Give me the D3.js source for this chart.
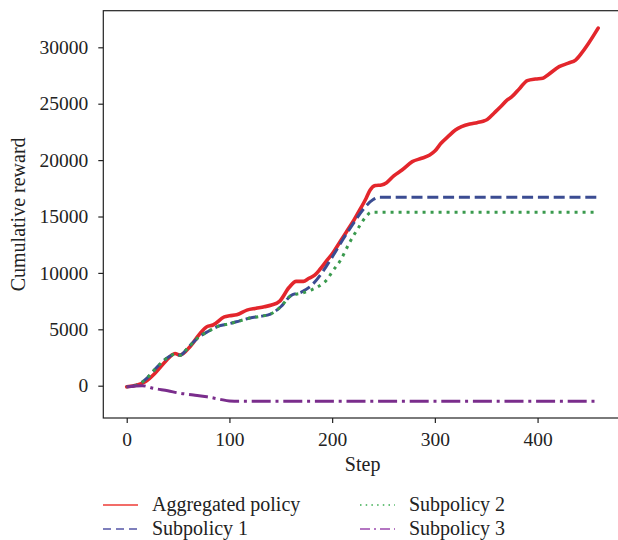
<!DOCTYPE html>
<html>
<head>
<meta charset="utf-8">
<script src="https://cdn.jsdelivr.net/npm/d3@7"></script>
<style>
  html, body { margin: 0; padding: 0; background: #fff; }
  svg text { font-family: "Liberation Serif", "DejaVu Serif", serif; fill: #222; }
</style>
</head>
<body>
<svg id="chart" width="618" height="540"></svg>
<script>
// ---- data ----
const aggSteps = [0, 10, 18, 28, 39, 44, 47, 52, 62, 72, 78, 84, 95, 100, 107, 117, 126, 134, 141, 149, 158, 165, 172, 177, 183, 188, 194, 201, 208, 214, 221, 227, 233, 237, 242, 248, 253, 260, 268, 278, 287, 295, 300, 306, 313, 320, 326, 334, 341, 347, 351, 358, 364, 370, 375, 383, 390, 398, 405, 410, 421, 430, 437, 443, 450, 459];
const aggValues = [-100, 60, 350, 1150, 2280, 2720, 2850, 2720, 3500, 4700, 5230, 5380, 6100, 6200, 6280, 6700, 6860, 7000, 7150, 7500, 8700, 9250, 9250, 9500, 9800, 10300, 11000, 11800, 12800, 13650, 14650, 15600, 16600, 17350, 17750, 17800, 18000, 18600, 19120, 19860, 20160, 20450, 20800, 21490, 22100, 22670, 22960, 23200, 23320, 23450, 23600, 24200, 24730, 25300, 25620, 26400, 27050, 27190, 27250, 27550, 28280, 28600, 28870, 29500, 30400, 31700];

const sub1Steps = [0, 10, 20, 30, 40, 47, 52, 60, 70, 80, 90, 100, 110, 120, 130, 140, 150, 160, 170, 180, 190, 200, 210, 220, 230, 240, 246, 300, 400, 459];
const sub1Values = [-100, 50, 700, 1700, 2500, 2800, 2700, 3400, 4300, 4850, 5300, 5500, 5750, 6000, 6150, 6350, 7000, 8000, 8300, 8900, 10000, 11400, 12900, 14300, 15600, 16500, 16700, 16700, 16700, 16700];

const sub2Steps = [0, 10, 20, 30, 40, 47, 52, 60, 70, 80, 90, 100, 110, 120, 130, 140, 150, 160, 170, 180, 190, 195, 200, 208, 217, 227, 233, 238, 300, 400, 459];
const sub2Values = [-100, 50, 700, 1700, 2500, 2800, 2700, 3400, 4300, 4850, 5300, 5500, 5750, 6000, 6150, 6350, 7000, 8000, 8200, 8500, 9000, 9400, 10100, 11100, 12700, 14200, 15000, 15370, 15370, 15370, 15370];

const sub3Steps = [0, 15, 26, 40, 52, 65, 78, 91, 100, 110, 200, 300, 400, 459];
const sub3Values = [-100, 0, -230, -450, -670, -820, -980, -1210, -1350, -1380, -1380, -1380, -1380, -1380];

const seriesNames = ["Aggregated policy", "Subpolicy 1", "Subpolicy 2", "Subpolicy 3"];
const xTicks = [0, 100, 200, 300, 400];
const yTicks = [0, 5000, 10000, 15000, 20000, 25000, 30000];

// ---- styles ----
const styles = [
  { color: "#e3262c", width: 3.6, dash: null,             legDash: null,            legColor: "#ee3b36" },
  { color: "#3b4c92", width: 3.0, dash: "11,4.8",         legDash: "8,5",           legColor: "#5456a6" },
  { color: "#3a9a4e", width: 3.0, dash: "3,5",            legDash: "1.5,4.2",       legColor: "#3aad50" },
  { color: "#7a2d8c", width: 3.0, dash: "19,4.8,3,4.8",   legDash: "10,4,2,4",      legColor: "#9c4aae" }
];

const series = [
  aggSteps.map((s, i) => [s, aggValues[i]]),
  sub1Steps.map((s, i) => [s, sub1Values[i]]),
  sub2Steps.map((s, i) => [s, sub2Values[i]]),
  sub3Steps.map((s, i) => [s, sub3Values[i]])
];

// ---- layout ----
const mLeft = 103.3, mRight = 622, mTop = 10.7, mBottom = 418;
const svg = d3.select("#chart");

const x = d3.scaleLinear().domain([-22.8, 482.2]).range([mLeft, mRight]);
const y = d3.scaleLinear().domain([-2863, 33245]).range([mBottom, mTop]);

const line = d3.line().x(d => x(d[0])).y(d => y(d[1])).curve(d3.curveMonotoneX);

[0, 1, 2, 3].forEach(k => {
  const st = styles[k];
  svg.append("path")
    .datum(series[k])
    .attr("fill", "none")
    .attr("stroke", st.color)
    .attr("stroke-width", st.width)
    .attr("stroke-linejoin", "round")
    .attr("stroke-linecap", k === 0 ? "round" : "butt")
    .attr("stroke-dasharray", st.dash)
    .attr("d", line);
});

// frame
svg.append("rect")
  .attr("x", mLeft).attr("y", mTop)
  .attr("width", mRight - mLeft).attr("height", mBottom - mTop)
  .attr("fill", "none").attr("stroke", "#222").attr("stroke-width", 1.2);

// axes
const yAxis = d3.axisLeft(y).tickValues(yTicks).tickSize(5).tickPadding(10).tickFormat(d3.format("d"));
const xAxis = d3.axisBottom(x).tickValues(xTicks).tickSize(5).tickPadding(9).tickFormat(d3.format("d"));

const gy = svg.append("g").attr("transform", `translate(${mLeft},0)`).call(yAxis);
const gx = svg.append("g").attr("transform", `translate(0,${mBottom})`).call(xAxis);
[gx, gy].forEach(g => {
  g.select(".domain").remove();
  g.selectAll(".tick line").attr("stroke", "#222").attr("stroke-width", 1.2);
  g.selectAll(".tick text").attr("font-size", 19.5).attr("fill", "#222")
    .style("font-family", '"Liberation Serif", "DejaVu Serif", serif');
});

// axis labels
svg.append("text")
  .attr("x", (mLeft + mRight) / 2).attr("y", 471)
  .attr("text-anchor", "middle").attr("font-size", 20)
  .text("Step");

svg.append("text")
  .attr("transform", `translate(25,${(mTop + mBottom) / 2}) rotate(-90)`)
  .attr("text-anchor", "middle").attr("font-size", 20)
  .text("Cumulative reward");

// legend (2 columns)
const legPos = [
  { x: 103, y: 505 },
  { x: 103, y: 529 },
  { x: 360, y: 505 },
  { x: 360, y: 529 }
];
seriesNames.forEach((name, k) => {
  const p = legPos[k];
  const st = styles[k];
  svg.append("line")
    .attr("x1", p.x).attr("x2", p.x + 35)
    .attr("y1", p.y).attr("y2", p.y)
    .attr("stroke", st.legColor).attr("stroke-width", 1.5)
    .attr("stroke-dasharray", st.legDash);
  svg.append("text")
    .attr("x", p.x + 49).attr("y", p.y + 6)
    .attr("font-size", 20)
    .text(name);
});
</script>
</body>
</html>
